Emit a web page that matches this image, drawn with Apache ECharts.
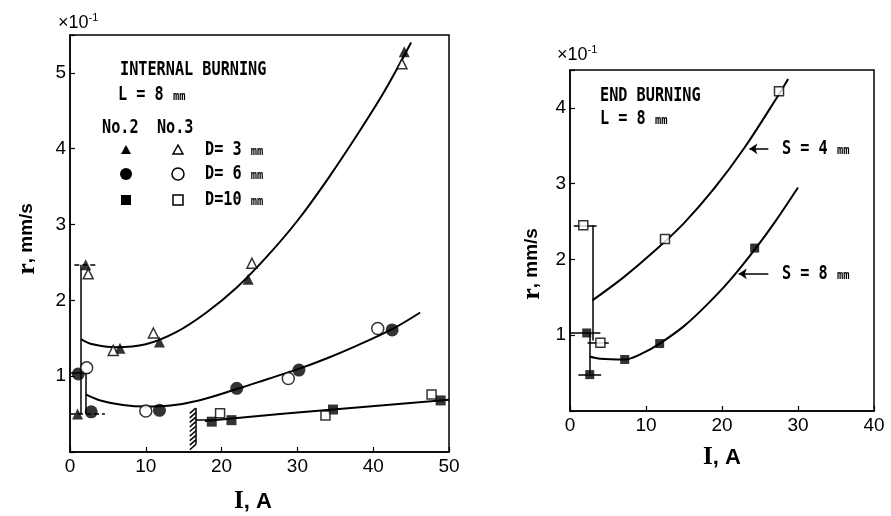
<!DOCTYPE html>
<html>
<head>
<meta charset="utf-8">
<script src="https://cdn.jsdelivr.net/npm/echarts@6/dist/echarts.min.js"></script>
<style>
  html, body { margin: 0; padding: 0; background: #fff; }
  #chart { width: 891px; height: 516px; }
</style>
</head>
<body>
<div id="chart"></div>
<script>
// ---- left panel: internal burning, L = 8 mm ----
const curveD3 = [[1.45,1.49],[3,1.42],[6,1.38],[10,1.42],[14,1.58],[18,1.84],[22,2.17],[26,2.58],[30,3.05],[34,3.6],[38,4.2],[41.5,4.76],[45,5.4]]
const curveD6 = [[2.07,0.76],[4,0.68],[7,0.62],[10,0.6],[13,0.61],[17,0.68],[22,0.83],[26,0.96],[30,1.09],[34,1.24],[38,1.41],[42.5,1.62],[46.2,1.84]]
const curveD10 = [[17.8,0.41],[27.7,0.5],[34.7,0.56],[50,0.69]]

// No.2 (filled) / No.3 (open)
const triNo2 = [[2.07,2.47],[1.0,0.5],[6.6,1.37],[11.8,1.45],[23.5,2.28],[44.1,5.28]]
const triNo3 = [[2.4,2.35],[5.7,1.34],[11.0,1.57],[24.0,2.49],[43.8,5.12]]
const cirNo2 = [[1.1,1.03],[2.8,0.53],[11.8,0.55],[22,0.84],[30.2,1.08],[42.5,1.61]]
const cirNo3 = [[2.2,1.11],[10.0,0.54],[28.8,0.97],[40.6,1.63]]
const sqNo2 = [[18.7,0.4],[21.3,0.42],[34.7,0.56],[48.9,0.68]]
const sqNo3 = [[19.8,0.51],[33.7,0.48],[47.7,0.76]]

// scatter ranges near ignition
const leftRangesSolid = [
  [[1.45,2.47],[1.45,0.5]],
  [[2.07,1.04],[2.07,0.51]],
  [[0,1.04],[2.6,1.04]],
  [[16.6,0.42],[18.5,0.42]]
]
const leftRangesDashed = [
  [[0.57,2.47],[3.65,2.47]],
  [[0,0.5],[4.6,0.5]]
]
// extinction limit (hatched)
const hatchX = 16.6
const hatchYs = [0.58,0.52,0.46,0.40,0.34,0.28,0.22,0.16,0.10]

// ---- right panel: end burning, L = 8 mm ----
const curveS4 = [[2.95,1.46],[7,1.76],[11,2.1],[15,2.48],[19,2.94],[23,3.48],[27.5,4.18],[28.7,4.38]]
const curveS8 = [[2.55,0.72],[4,0.69],[7.2,0.68],[9.5,0.76],[11.8,0.89],[15,1.12],[18,1.4],[21,1.72],[24.3,2.13],[27,2.5],[30,2.95]]
const sqS4 = [[1.75,2.45],[4.0,0.9],[12.5,2.27],[27.5,4.22]]
const sqS8 = [[2.2,1.03],[2.6,0.48],[7.2,0.68],[11.8,0.89],[24.3,2.15]]
const rightRanges = [
  [[2.95,2.45],[2.95,0.93]],
  [[2.55,1.03],[2.55,0.49]],
  [[0.5,2.45],[3.5,2.45]],
  [[0,1.03],[4.0,1.03]],
  [[2.3,0.9],[5.1,0.9]],
  [[1.1,0.48],[4.1,0.48]]
]
const rightArrows = [
  [[26.1,3.46],[23.6,3.46]],
  [[26.1,1.81],[22.2,1.81]]
]

const chart = echarts.init(document.getElementById('chart'), null, { renderer: 'canvas' })

const black = '#000'
const tickFont = { fontFamily: 'Liberation Sans', fontSize: 19, color: black }
const mono = 'DejaVu Sans Mono'

function xAxis(idx, max) {
  return {
    type: 'value', gridIndex: idx, min: 0, max: max, interval: 10,
    axisLine: { lineStyle: { color: black, width: 1.5 } },
    axisTick: { inside: true, length: 5, lineStyle: { color: black, width: 1.2 } },
    axisLabel: Object.assign({ margin: 5 }, tickFont),
    splitLine: { show: false }
  }
}
function yAxis(idx, max) {
  return {
    type: 'value', gridIndex: idx, min: 0, max: max, interval: 1,
    axisLine: { lineStyle: { color: black, width: 1.5 } },
    axisTick: { inside: true, length: 5, lineStyle: { color: black, width: 1.2 } },
    axisLabel: Object.assign({
      margin: 4,
      formatter: v => (v > 0 && Number.isInteger(v)) ? String(v) : ''
    }, tickFont),
    splitLine: { show: false }
  }
}

function curve(data, g) {
  return {
    type: 'line', xAxisIndex: g, yAxisIndex: g, data: data,
    smooth: 0.35,
    symbol: 'none', lineStyle: { color: black, width: 2 }, z: 3
  }
}
function pts(data, g, sym, size, open) {
  return {
    type: 'scatter', xAxisIndex: g, yAxisIndex: g, data: data,
    symbol: sym, symbolSize: size,
    itemStyle: open ? { color: '#fff', borderColor: black, borderWidth: 1.5 } : { color: black },
    z: 5
  }
}
function segs(list, g, dashed, extra) {
  return Object.assign({
    type: 'lines', coordinateSystem: 'cartesian2d', xAxisIndex: g, yAxisIndex: g,
    data: list.map(c => ({ coords: c })),
    lineStyle: { color: black, width: 1.5, type: dashed ? [5, 3] : 'solid', opacity: 1 },
    z: 4
  }, extra || {})
}

const hatchSegs = [[[hatchX, hatchYs[0]], [hatchX, hatchYs[hatchYs.length - 1]]]]
  .concat(hatchYs.map(y => [[hatchX, y], [hatchX - 0.8, y - 0.07]]))

function monoText(x, y, text) {
  return {
    type: 'text', x: x, y: y, scaleX: 0.8,
    style: {
      text: text, fill: black, font: 'bold 19px ' + mono,
      verticalAlign: 'middle',
      rich: { s: { fontSize: 13, fontFamily: mono, fontWeight: 'bold', fill: black, padding: [3, 0, 0, 0] } }
    }
  }
}
function expo(x, y) {
  return {
    type: 'text', x: x, y: y,
    style: {
      text: '{a|×10}{b|-1}', verticalAlign: 'middle',
      rich: {
        a: { fontFamily: 'Liberation Sans', fontSize: 18, fill: black },
        b: { fontFamily: 'Liberation Sans', fontSize: 11, fill: black, padding: [0, 0, 10, 0] }
      }
    }
  }
}
function yTitle(x, y) {
  return {
    type: 'text', x: x, y: y, rotation: Math.PI / 2,
    style: {
      text: '{r|r}{a|, mm/s}', align: 'center', verticalAlign: 'middle',
      rich: {
        r: { fontFamily: 'Liberation Serif', fontWeight: 'bold', fontSize: 26, fill: black },
        a: { fontFamily: 'Liberation Sans', fontWeight: 'bold', fontSize: 19, fill: black }
      }
    }
  }
}
function xTitle(x, y) {
  return {
    type: 'text', x: x, y: y,
    style: {
      text: '{i|I}{a|, A}', align: 'center', verticalAlign: 'middle',
      rich: {
        i: { fontFamily: 'Liberation Serif', fontWeight: 'bold', fontSize: 25, fill: black },
        a: { fontFamily: 'Liberation Sans', fontWeight: 'bold', fontSize: 22, fill: black }
      }
    }
  }
}
function legendSym(shape, x, y, open) {
  const st = open ? { fill: '#fff', stroke: black, lineWidth: 1.5 } : { fill: black }
  if (shape === 'tri') return { type: 'polygon', shape: { points: [[x, y - 5], [x - 5, y + 4], [x + 5, y + 4]] }, style: st }
  if (shape === 'cir') return { type: 'circle', shape: { cx: x, cy: y, r: 6 }, style: st }
  return { type: 'rect', shape: { x: x - 5, y: y - 5, width: 10, height: 10 }, style: st }
}

const option = {
  animation: false,
  backgroundColor: '#fff',
  grid: [
    { left: 70, top: 35, width: 379, height: 417, show: true, borderColor: black, borderWidth: 1.5 },
    { left: 570, top: 70, width: 304, height: 341, show: true, borderColor: black, borderWidth: 1.5 }
  ],
  xAxis: [xAxis(0, 50), xAxis(1, 40)],
  yAxis: [yAxis(0, 5.5), yAxis(1, 4.5)],
  series: [
    curve(curveD3, 0), curve(curveD6, 0), Object.assign(curve(curveD10, 0), { smooth: false }),
    pts(triNo2, 0, 'triangle', 11, false),
    pts(triNo3, 0, 'triangle', 10, true),
    pts(cirNo2, 0, 'circle', 13, false),
    pts(cirNo3, 0, 'circle', 12, true),
    pts(sqNo2, 0, 'rect', 10, false),
    pts(sqNo3, 0, 'rect', 9, true),
    segs(leftRangesSolid, 0, false),
    segs(leftRangesDashed, 0, true),
    segs(hatchSegs, 0, false, { lineStyle: { color: black, width: 1.5, opacity: 1 } }),
    curve(curveS4, 1), curve(curveS8, 1),
    pts(sqS4, 1, 'rect', 9, true),
    pts(sqS8, 1, 'rect', 9, false),
    segs(rightRanges, 1, false),
    segs(rightArrows, 1, false, { symbol: ['none', 'arrow'], symbolSize: 8 })
  ],
  graphic: [
    monoText(120, 70, 'INTERNAL BURNING'),
    monoText(118, 95, 'L = 8 {s|mm}'),
    monoText(102, 128, 'No.2  No.3'),
    legendSym('tri', 126, 150, false), legendSym('tri', 178, 150, true),
    legendSym('cir', 126, 174, false), legendSym('cir', 178, 174, true),
    legendSym('rect', 126, 200, false), legendSym('rect', 178, 200, true),
    monoText(205, 150, 'D= 3 {s|mm}'),
    monoText(205, 174, 'D= 6 {s|mm}'),
    monoText(205, 200, 'D=10 {s|mm}'),
    monoText(600, 96, 'END BURNING'),
    monoText(600, 119, 'L = 8 {s|mm}'),
    monoText(782, 149, 'S = 4 {s|mm}'),
    monoText(782, 274, 'S = 8 {s|mm}'),
    expo(58, 23), expo(557, 55),
    yTitle(27, 239), yTitle(532, 264),
    xTitle(253, 502), xTitle(722, 458)
  ]
}
chart.setOption(option)
</script>
</body>
</html>
